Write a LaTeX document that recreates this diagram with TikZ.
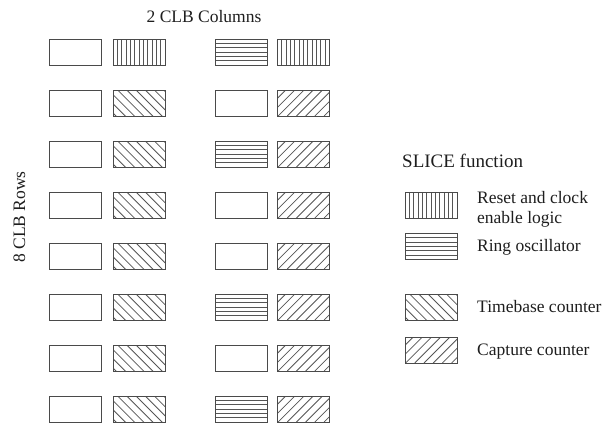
\documentclass[tikz,border=0pt]{standalone}
\usepackage{fontspec}
\setmainfont{Liberation Serif}
\definecolor{boxc}{HTML}{4A4A4A}
\definecolor{hatchc}{HTML}{555555}
\definecolor{txtc}{HTML}{1E1E1E}
\tikzset{
  cell/.style={rectangle, draw=boxc, line width=0.9pt, minimum width=52pt, minimum height=26pt, inner sep=0pt},
  hl/.style={draw=hatchc, line width=0.8pt},
  vhatch/.style={cell, path picture={
      \foreach \k in {1,...,12}{\draw[hl] ([xshift=\k*4.333pt]path picture bounding box.north west) -- ([xshift=\k*4.333pt]path picture bounding box.south west);}}},
  hhatch/.style={cell, path picture={
      \foreach \k in {1,...,5}{\draw[hl] ([yshift=-\k*4.333pt]path picture bounding box.north west) -- ([yshift=-\k*4.333pt]path picture bounding box.north east);}}},
  nwhatch/.style={cell, path picture={
      \foreach \a in {-30,-20.8,...,56}{\draw[hl] ([xshift=\a pt+7pt]path picture bounding box.north west) -- ++(30pt,-30pt);}}},
  nehatch/.style={cell, path picture={
      \foreach \a in {-30,-20.8,...,56}{\draw[hl] ([xshift=\a pt+3pt]path picture bounding box.south west) -- ++(30pt,30pt);}}},
  lbl/.style={text=txtc, inner sep=0pt, font=\fontsize{17.5}{19.5}\selectfont},
}
\begin{document}
\begin{tikzpicture}[x=1pt,y=-1pt]
\useasboundingbox (0,0) rectangle (603,423);
% grid
\foreach \r in {1,...,8}{
  \pgfmathsetmacro{\yy}{52+51*(\r-1)}
  \node[cell] (a\r) at (75.5,\yy) {};
}
\node[vhatch] (b1) at (139,52) {};
\foreach \r in {2,...,8}{
  \pgfmathsetmacro{\yy}{52+51*(\r-1)}
  \node[nwhatch] (b\r) at (139,\yy) {};
}
\node[hhatch] (c1) at (241,52) {};
\node[cell]   (c2) at (241,103) {};
\node[hhatch] (c3) at (241,154) {};
\node[cell]   (c4) at (241,205) {};
\node[cell]   (c5) at (241,256) {};
\node[hhatch] (c6) at (241,307) {};
\node[cell]   (c7) at (241,358) {};
\node[hhatch] (c8) at (241,409) {};
\node[vhatch] (d1) at (303.5,52) {};
\foreach \r in {2,...,8}{
  \pgfmathsetmacro{\yy}{52+51*(\r-1)}
  \node[nehatch] (d\r) at (303.5,\yy) {};
}
% axis labels
\node[lbl, anchor=base] (cols) at (204,22) {2 CLB Columns};
\node[lbl, anchor=base, rotate=90] (rows) at (25,217) {8 CLB Rows};
% legend
\node[lbl, anchor=base west, font=\fontsize{19}{21}\selectfont] (title) at (402,167) {SLICE function};
\node[vhatch]  (l1) at (431,205) {};
\node[hhatch]  (l2) at (431,246.5) {};
\node[nwhatch] (l3) at (431,307) {};
\node[nehatch] (l4) at (431,350) {};
\node[lbl, anchor=base west] (t1a) at (477,203.5) {Reset and clock};
\node[lbl, anchor=base west] (t1b) at (477,223) {enable logic};
\node[lbl, anchor=base west] (t2) at (477,251.5) {Ring oscillator};
\node[lbl, anchor=base west] (t3) at (477,312.5) {Timebase counter};
\node[lbl, anchor=base west] (t4) at (477,355) {Capture counter};
\end{tikzpicture}
\end{document}
